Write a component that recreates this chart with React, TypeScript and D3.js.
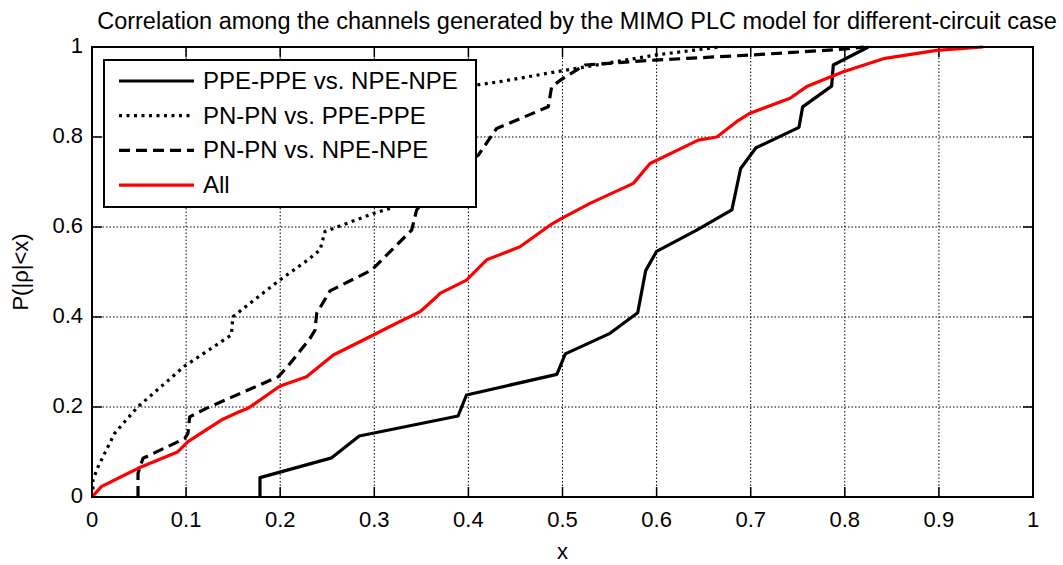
import React, { useEffect, useRef } from 'react';
import * as d3 from 'd3';

// PPE-PPE vs. NPE-NPE (solid black)
const ppeNpeX = [0.1785, 0.1785, 0.2547, 0.284, 0.389, 0.398, 0.494, 0.503, 0.5505, 0.5799, 0.5884, 0.600, 0.6426, 0.680, 0.6893, 0.7056, 0.7513, 0.7552, 0.786, 0.7878, 0.825];
const ppeNpeY = [0, 0.043, 0.087, 0.1356, 0.18, 0.2267, 0.2726, 0.318, 0.3637, 0.4096, 0.503, 0.546, 0.593, 0.638, 0.730, 0.776, 0.8215, 0.867, 0.913, 0.96, 1.0];

// PN-PN vs. PPE-PPE (dotted black)
const pnPpeX = [0.001, 0.001, 0.0064, 0.024, 0.0489, 0.0985, 0.148, 0.1498, 0.1994, 0.2295, 0.2423, 0.2476, 0.299, 0.3167, 0.34, 0.36, 0.38, 0.4088, 0.4336, 0.499, 0.598, 0.667];
const pnPpeY = [0, 0.038, 0.067, 0.1415, 0.2007, 0.291, 0.36, 0.4007, 0.482, 0.527, 0.549, 0.59, 0.63, 0.6415, 0.70, 0.80, 0.87, 0.9156, 0.923, 0.947, 0.982, 1.0];

// PN-PN vs. NPE-NPE (dashed black)
const pnNpeX = [0.0489, 0.0489, 0.0542, 0.0985, 0.102, 0.1038, 0.1215, 0.1977, 0.208, 0.2317, 0.237, 0.2388, 0.2529, 0.2972, 0.3397, 0.345, 0.37, 0.4106, 0.43, 0.4849, 0.4885, 0.499, 0.5239, 0.598, 0.699, 0.798, 0.82];
const pnNpeY = [0, 0.053, 0.086, 0.13, 0.1415, 0.178, 0.197, 0.267, 0.29, 0.3526, 0.371, 0.408, 0.458, 0.5044, 0.5933, 0.6378, 0.70, 0.76, 0.819, 0.867, 0.912, 0.928, 0.96, 0.971, 0.982, 0.995, 1.0];

// All (red)
const allX = [0, 0.0099, 0.0347, 0.0489, 0.0914, 0.102, 0.1374, 0.157, 0.1658, 0.1994, 0.228, 0.2565, 0.299, 0.313, 0.3486, 0.3663, 0.3698, 0.398, 0.4194, 0.4548, 0.4867, 0.4991, 0.5292, 0.5753, 0.593, 0.6443, 0.664, 0.685, 0.6993, 0.7418, 0.7595, 0.7984, 0.841, 0.8977, 0.947];
const allY = [0, 0.023, 0.049, 0.0637, 0.1007, 0.123, 0.171, 0.19, 0.197, 0.246, 0.267, 0.3156, 0.36, 0.375, 0.4118, 0.445, 0.4526, 0.482, 0.527, 0.556, 0.604, 0.619, 0.6526, 0.697, 0.741, 0.793, 0.80, 0.834, 0.853, 0.886, 0.912, 0.945, 0.974, 0.9926, 1.0];

const xTicks = [0, 0.1, 0.2, 0.3, 0.4, 0.5, 0.6, 0.7, 0.8, 0.9, 1];
const yTicks = [0, 0.2, 0.4, 0.6, 0.8, 1];

const seriesNames = ['PPE-PPE vs. NPE-NPE', 'PN-PN vs. PPE-PPE', 'PN-PN vs. NPE-NPE', 'All'];

const App: React.FC = () => {
  const svgRef = useRef<SVGSVGElement>(null);

  useEffect(() => {
    if (!svgRef.current) return;
    const svg = d3.select(svgRef.current);
    svg.selectAll('*').remove();

    const width = 1063;
    const height = 565;
    const margin = { top: 47, right: 30, bottom: 68, left: 92 };
    const w = width - margin.left - margin.right;
    const h = height - margin.top - margin.bottom;
    const font = 'Liberation Sans, Arial, Helvetica, sans-serif';

    const x = d3.scaleLinear().domain([0, 1]).range([0, w]);
    const y = d3.scaleLinear().domain([0, 1]).range([h, 0]);

    svg.append('rect').attr('width', width).attr('height', height).attr('fill', '#fff');

    const g = svg.append('g').attr('transform', `translate(${margin.left},${margin.top})`);

    // Grid
    g.selectAll('.vgrid')
      .data(xTicks.slice(1, -1))
      .enter()
      .append('line')
      .attr('x1', d => x(d)).attr('x2', d => x(d))
      .attr('y1', 0).attr('y2', h)
      .attr('stroke', '#000').attr('stroke-width', 1)
      .attr('stroke-dasharray', '1.5,2');
    g.selectAll('.hgrid')
      .data(yTicks.slice(1, -1))
      .enter()
      .append('line')
      .attr('x1', 0).attr('x2', w)
      .attr('y1', d => y(d)).attr('y2', d => y(d))
      .attr('stroke', '#000').attr('stroke-width', 1)
      .attr('stroke-dasharray', '1.5,2');

    // Ticks (inward, all four sides)
    const tl = 10;
    xTicks.forEach(t => {
      g.append('line').attr('x1', x(t)).attr('x2', x(t)).attr('y1', h).attr('y2', h - tl).attr('stroke', '#000').attr('stroke-width', 1.5);
      g.append('line').attr('x1', x(t)).attr('x2', x(t)).attr('y1', 0).attr('y2', tl).attr('stroke', '#000').attr('stroke-width', 1.5);
    });
    yTicks.forEach(t => {
      g.append('line').attr('x1', 0).attr('x2', tl).attr('y1', y(t)).attr('y2', y(t)).attr('stroke', '#000').attr('stroke-width', 1.5);
      g.append('line').attr('x1', w).attr('x2', w - tl).attr('y1', y(t)).attr('y2', y(t)).attr('stroke', '#000').attr('stroke-width', 1.5);
    });

    // Tick labels
    g.selectAll('.xlab')
      .data(xTicks)
      .enter()
      .append('text')
      .attr('x', d => x(d))
      .attr('y', h + 24)
      .attr('text-anchor', 'middle')
      .attr('dominant-baseline', 'middle')
      .attr('font-family', font)
      .attr('font-size', 22)
      .text(d => `${d}`);
    g.selectAll('.ylab')
      .data(yTicks)
      .enter()
      .append('text')
      .attr('x', -9)
      .attr('y', d => y(d))
      .attr('text-anchor', 'end')
      .attr('dominant-baseline', 'middle')
      .attr('font-family', font)
      .attr('font-size', 22)
      .text(d => `${d}`);

    // Lines
    const line = d3.line<[number, number]>()
      .x(d => x(d[0]))
      .y(d => y(d[1]));

    const zip = (xs: number[], ys: number[]) => xs.map((v, i) => [v, ys[i]] as [number, number]);

    const styles = [
      { data: zip(ppeNpeX, ppeNpeY), color: '#000', dash: null as string | null },
      { data: zip(pnPpeX, pnPpeY), color: '#000', dash: '3,4.5' },
      { data: zip(pnNpeX, pnNpeY), color: '#000', dash: '11,6' },
      { data: zip(allX, allY), color: '#ff0000', dash: null },
    ];

    const clip = svg.append('defs').append('clipPath').attr('id', 'plotclip');
    clip.append('rect').attr('x', 0).attr('y', -2).attr('width', w).attr('height', h + 2);

    const lines = g.append('g').attr('clip-path', 'url(#plotclip)');
    styles.forEach(s => {
      lines.append('path')
        .datum(s.data)
        .attr('fill', 'none')
        .attr('stroke', s.color)
        .attr('stroke-width', 3.2)
        .attr('stroke-linejoin', 'round')
        .attr('stroke-dasharray', s.dash)
        .attr('d', line);
    });

    // Axes box
    g.append('rect')
      .attr('x', 0).attr('y', 0).attr('width', w).attr('height', h)
      .attr('fill', 'none').attr('stroke', '#000').attr('stroke-width', 2);

    // Legend
    const lg = g.append('g').attr('transform', `translate(${104 - margin.left},${60 - margin.top})`);
    lg.append('rect')
      .attr('x', 0).attr('y', 0).attr('width', 372).attr('height', 147)
      .attr('fill', '#fff').attr('stroke', '#000').attr('stroke-width', 2);
    seriesNames.forEach((name, i) => {
      const ry = 21 + i * 34.7;
      lg.append('line')
        .attr('x1', 15).attr('x2', 90)
        .attr('y1', ry).attr('y2', ry)
        .attr('stroke', styles[i].color)
        .attr('stroke-width', 3.2)
        .attr('stroke-dasharray', styles[i].dash);
      lg.append('text')
        .attr('x', 99)
        .attr('y', ry + 1.5)
        .attr('dominant-baseline', 'middle')
        .attr('font-family', font)
        .attr('font-size', 24)
        .text(name);
    });

    // Title and axis labels
    svg.append('text')
      .attr('x', 577)
      .attr('y', 23)
      .attr('text-anchor', 'middle')
      .attr('dominant-baseline', 'middle')
      .attr('font-family', font)
      .attr('font-size', 23.5)
      .text('Correlation among the channels generated by the MIMO PLC model for different-circuit case');

    svg.append('text')
      .attr('x', margin.left + w / 2)
      .attr('y', 553)
      .attr('text-anchor', 'middle')
      .attr('dominant-baseline', 'middle')
      .attr('font-family', font)
      .attr('font-size', 22)
      .text('x');

    svg.append('text')
      .attr('transform', `translate(22,${margin.top + h / 2}) rotate(-90)`)
      .attr('text-anchor', 'middle')
      .attr('dominant-baseline', 'middle')
      .attr('font-family', font)
      .attr('font-size', 22)
      .text('P(|ρ|<x)');
  }, []);

  return (
    <svg
      ref={svgRef}
      width={1063}
      height={565}
      style={{ position: 'absolute', left: 0, top: 0, display: 'block' }}
    />
  );
};

export default App;
